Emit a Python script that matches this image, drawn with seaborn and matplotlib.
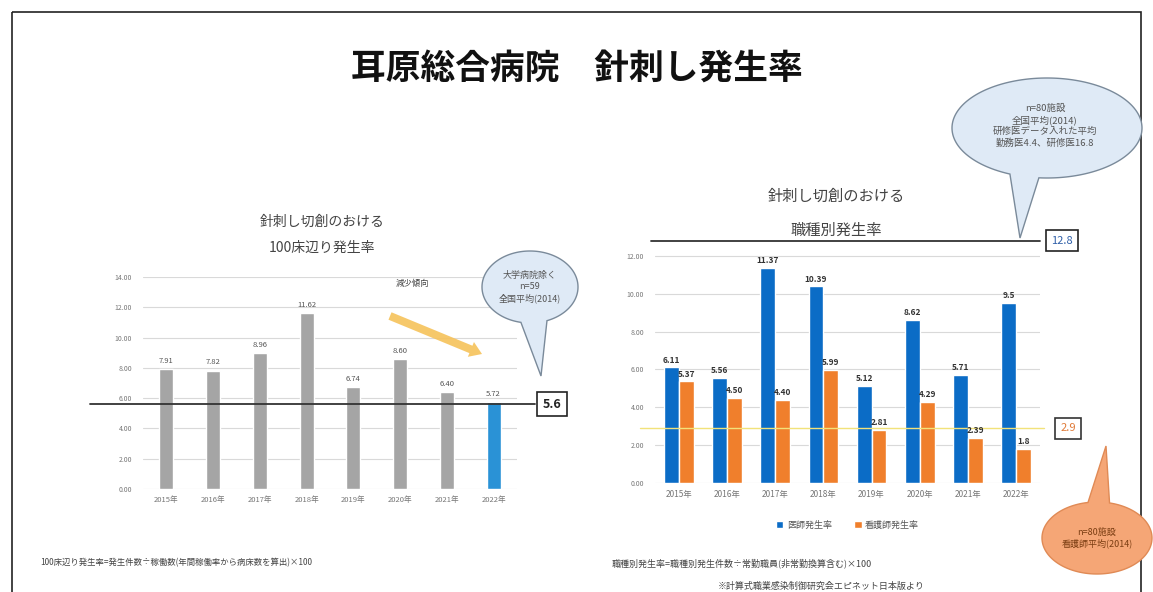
import numpy as np
import pandas as pd
import matplotlib
matplotlib.use("Agg")
import matplotlib.pyplot as plt
import matplotlib.transforms as mtransforms
from matplotlib.patches import Polygon, Rectangle, FancyArrow
import seaborn as sns

# ---- data ----
years = ["2015年", "2016年", "2017年", "2018年", "2019年", "2020年", "2021年", "2022年"]
rate_100beds = [7.91, 7.82, 8.96, 11.62, 6.74, 8.60, 6.40, 5.72]
rate_doctor = [6.11, 5.56, 11.37, 10.39, 5.12, 8.62, 5.71, 9.5]
rate_nurse = [5.37, 4.50, 4.40, 5.99, 2.81, 4.29, 2.39, 1.8]
doctor_labels = ["6.11", "5.56", "11.37", "10.39", "5.12", "8.62", "5.71", "9.5"]
nurse_labels = ["5.37", "4.50", "4.40", "5.99", "2.81", "4.29", "2.39", "1.8"]
national_100beds = 5.6
national_doctor = 12.8
national_nurse = 2.9
series_names = ["医師発生率", "看護師発生率"]

sns.set_style("white")
plt.rcParams["font.family"] = ["Noto Sans CJK JP", "DejaVu Sans"]

W, H = 1153, 592
fig = plt.figure(figsize=(W / 100, H / 100), dpi=100)

GRID = "#d9d9d9"
TICK = "#777777"


def px_axes(x0, y0, x1, y1):
    # pixel box (y down) -> figure fraction
    return fig.add_axes([x0 / W, 1 - y1 / H, (x1 - x0) / W, (y1 - y0) / H])


def style_axes(ax, top, ymax_tick):
    ax.set_ylim(0, top)
    ticks = np.arange(0, ymax_tick + 0.01, 2)
    ax.set_yticks(ticks)
    ax.set_yticklabels([f"{v:.2f}" for v in ticks], fontsize=5, color=TICK)
    ax.tick_params(axis="both", length=0, pad=8)
    ax.tick_params(axis="x", labelsize=5.5, labelcolor=TICK, pad=5)
    ax.grid(axis="y", color=GRID, lw=0.8)
    ax.set_axisbelow(True)
    sns.despine(ax=ax, left=True, bottom=True)
    ax.set_xlabel("")
    ax.set_ylabel("")


# ---- left chart: per 100 beds ----
ax1 = px_axes(143, 277, 517, 489)
left_df = pd.DataFrame({"year": years, "rate": rate_100beds})
bar_cols = ["#a5a5a5"] * (len(years) - 1) + ["#2a92d6"]
sns.barplot(data=left_df, x="year", y="rate", hue="year", palette=bar_cols,
            legend=False, width=0.3, saturation=1, ax=ax1)
style_axes(ax1, 14, 14)
for c in ax1.containers:
    ax1.bar_label(c, fmt="%.2f", fontsize=5.5, color="#555555", padding=3)

trans1 = mtransforms.blended_transform_factory(ax1.transAxes, ax1.transData)
ax1.axhline(national_100beds, xmin=-0.142, xmax=1.048, color="#333333", lw=1.3,
            clip_on=False, zorder=4)
ax1.text(1.094, national_100beds, f"{national_100beds}", transform=trans1,
         ha="center", va="center", fontsize=9, fontweight="bold", color="#222222",
         bbox=dict(boxstyle="square,pad=0.45", fc="white", ec="#222222", lw=1.2))

# ---- right chart: by job type ----
ax2 = px_axes(655, 237, 1040, 483)
right_df = pd.DataFrame({
    "year": years * 2,
    "rate": rate_doctor + rate_nurse,
    "job": [series_names[0]] * len(years) + [series_names[1]] * len(years),
})
sns.barplot(data=right_df, x="year", y="rate", hue="job",
            palette=["#0b6cc6", "#f07f2c"], width=0.62, saturation=1, ax=ax2)
style_axes(ax2, 13, 12)
ax2.tick_params(axis="x", labelsize=6)
ax2.bar_label(ax2.containers[0], labels=doctor_labels, fontsize=6, fontweight="bold",
              color="#333333", padding=2)
ax2.bar_label(ax2.containers[1], labels=nurse_labels, fontsize=6, fontweight="bold",
              color="#333333", padding=2)
leg = ax2.legend(loc="upper center", bbox_to_anchor=(0.5, -0.12), ncol=2, frameon=False,
                 fontsize=6.5, handlelength=0.8, handleheight=0.8, columnspacing=2.5,
                 handletextpad=0.4)
for t in leg.get_texts():
    t.set_color("#555555")

trans2 = mtransforms.blended_transform_factory(ax2.transAxes, ax2.transData)
ax2.axhline(national_doctor, xmin=-0.01, xmax=1.0, color="#333333", lw=1.3,
            clip_on=False, zorder=4)
ax2.text(1.057, national_doctor, f"{national_doctor}", transform=trans2,
         ha="center", va="center", fontsize=8, color="#2f5fa8",
         bbox=dict(boxstyle="square,pad=0.5", fc="white", ec="#222222", lw=1.2))
ax2.axhline(national_nurse, xmin=-0.04, xmax=1.01, color="#f2e27a", lw=1.0,
            clip_on=False, zorder=1)
ax2.text(1.073, national_nurse, f"{national_nurse}", transform=trans2,
         ha="center", va="center", fontsize=8, color="#e07b39",
         bbox=dict(boxstyle="square,pad=0.5", fc="white", ec="#333333", lw=1.2))

# ---- overlay: title, frame, notes, callouts ----
ov = fig.add_axes([0, 0, 1, 1], zorder=10)
ov.set_xlim(0, W)
ov.set_ylim(H, 0)
ov.axis("off")
ov.patch.set_alpha(0)

ov.add_patch(Rectangle((12, 12), 1129, 600, fill=False, ec="#222222", lw=1.2, clip_on=False))
ov.text(577, 68, "耳原総合病院　針刺し発生率", ha="center", va="center",
        fontsize=25, fontweight="bold", color="#111111")

ov.text(322, 222, "針刺し切創のおける", ha="center", va="center", fontsize=10, color="#444444")
ov.text(322, 248, "100床辺り発生率", ha="center", va="center", fontsize=10, color="#444444")
ov.text(836, 196, "針刺し切創のおける", ha="center", va="center", fontsize=11, color="#444444")
ov.text(836, 230, "職種別発生率", ha="center", va="center", fontsize=11, color="#444444")

ov.text(412, 283, "減少傾向", ha="center", va="center", fontsize=6, color="#444444")
ov.add_patch(FancyArrow(390, 316, 92, 38, width=8, head_width=16, head_length=12,
                        length_includes_head=True, color="#f6c25a", alpha=0.9, lw=0))


def bubble(cx, cy, rx, ry, tip, ang_lo, ang_hi, fc, ec):
    t = np.linspace(0, 2 * np.pi, 240)
    pts = []
    placed = False
    for a in t:
        deg = np.degrees(a)
        if ang_lo <= deg <= ang_hi:
            if not placed:
                pts.append(tip)
                placed = True
            continue
        pts.append((cx + rx * np.cos(a), cy + ry * np.sin(a)))
    ov.add_patch(Polygon(pts, closed=True, fc=fc, ec=ec, lw=1.0, clip_on=False))


# left callout
bubble(530, 287, 48, 36, (541, 376), 70, 100, "#dfeaf6", "#7a8a9a")
ov.text(530, 287, "大学病院除く\nn=59\n全国平均(2014)", ha="center", va="center",
        fontsize=6.5, color="#555555", linespacing=1.3)

# top-right callout
bubble(1047, 128, 95, 50, (1020, 238), 95, 112, "#dfeaf6", "#7a8a9a")
ov.text(1045, 126, "n=80施設\n全国平均(2014)\n研修医データ入れた平均\n勤務医4.4、研修医16.8",
        ha="center", va="center", fontsize=6.8, color="#555555", linespacing=1.3)

# orange callout
bubble(1097, 538, 55, 36, (1106, 446), 262, 282, "#f5a676", "#e08a55")
ov.text(1097, 538, "n=80施設\n看護師平均(2014)", ha="center", va="center",
        fontsize=6.5, color="#7a3d12", linespacing=1.3)

ov.text(40, 563, "100床辺り発生率=発生件数÷稼働数(年間稼働率から病床数を算出)×100",
        ha="left", va="center", fontsize=6, color="#444444")
ov.text(612, 563, "職種別発生率=職種別発生件数÷常勤職員(非常勤換算含む)×100",
        ha="left", va="center", fontsize=6.5, color="#444444")
ov.text(718, 586, "※計算式職業感染制御研究会エピネット日本版より",
        ha="left", va="center", fontsize=6.5, color="#444444")

fig.savefig("out.png", dpi=100)
